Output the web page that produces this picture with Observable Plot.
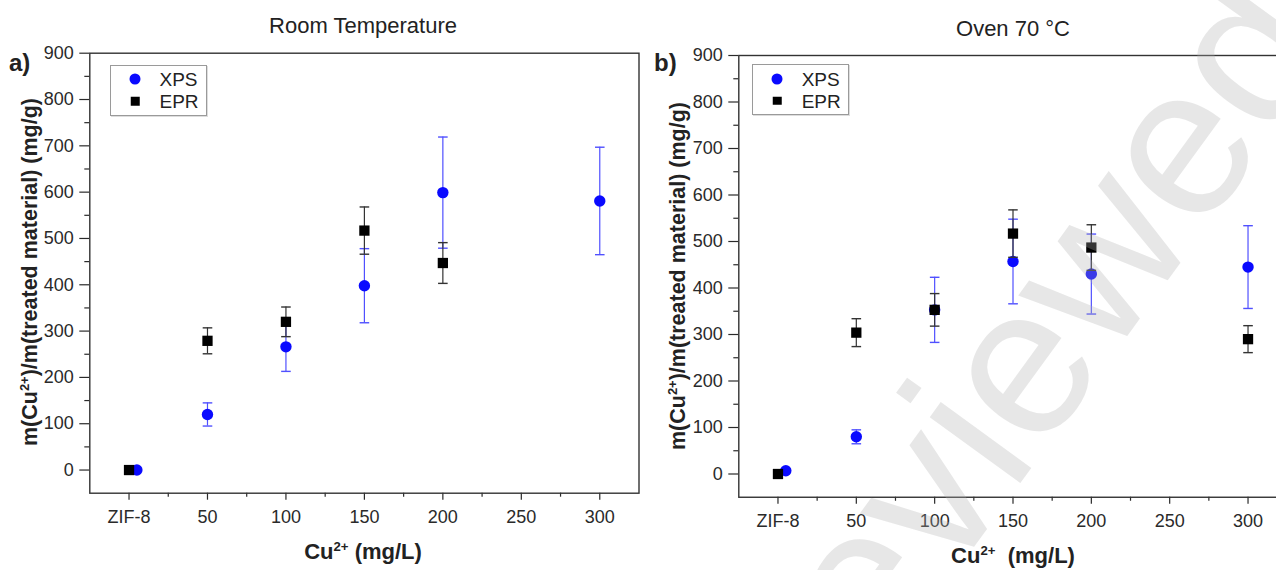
<!DOCTYPE html>
<html><head><meta charset="utf-8">
<script src="https://cdn.jsdelivr.net/npm/d3@7"></script>
<script src="https://cdn.jsdelivr.net/npm/@observablehq/plot@0.6"></script>
<style>
html,body{margin:0;padding:0;background:#fff;}
#wrap{position:relative;width:1276px;height:570px;overflow:hidden;font-family:'Liberation Sans',Arial,sans-serif;color:#222;}
.abs{position:absolute;white-space:nowrap;line-height:1;}
.c{transform:translate(-50%,-50%);}
.title{font-size:22px;}
.tag{font-size:24px;font-weight:bold;transform:translate(0,-50%);}
.axt{font-size:22px;font-weight:bold;}
.ylab{font-size:21.5px;font-weight:bold;transform:translate(-50%,-50%) rotate(-90deg);}
.sup{font-size:0.6em;position:relative;top:-0.6em;}
.legend{position:absolute;border:1px solid #9a9a9a;background:#fff;box-shadow:1px 1px 0 #ddd;}
.lt{font-size:19px;transform:translate(0,-50%);}
.lc{position:absolute;width:11px;height:11px;border-radius:50%;background:#0a0aff;transform:translate(-50%,-50%);}
.ls{position:absolute;width:8.5px;height:8.5px;background:#000;transform:translate(-50%,-50%);}
.wm{position:absolute;font-size:212px;line-height:1;white-space:nowrap;color:rgba(175,175,175,0.3);pointer-events:none;transform:translate(-50%,-50%) rotate(-54deg);font-family:'Liberation Sans',Arial,sans-serif;}
.panel{position:absolute;top:0;}
</style></head><body><div id="wrap"></div>
<script>
// ---- data ----
const xTickValues = [0, 50, 100, 150, 200, 250, 300];
const xTickLabels = ["ZIF-8", "50", "100", "150", "200", "250", "300"];
const xMinorTicks = [25, 75, 125, 175, 225, 275];
const yTickValues = [0, 100, 200, 300, 400, 500, 600, 700, 800, 900];
const yMinorTicks = [50, 150, 250, 350, 450, 550, 650, 750, 850];

// Room temperature
const rtXpsX   = [5, 50, 100, 150, 200, 300];
const rtXps    = [0, 120, 266, 398, 599, 581];
const rtXpsErr = [0, 25, 53, 80, 120, 116];
const rtEprX   = [0, 50, 100, 150, 200];
const rtEpr    = [0, 279, 320, 517, 447];
const rtEprErr = [0, 28, 32, 51, 44];

// Oven 70 °C
const ovXpsX   = [5, 50, 100, 150, 200, 300];
const ovXps    = [7, 80, 353, 457, 430, 445];
const ovXpsErr = [0, 15, 70, 91, 86, 89];
const ovEprX   = [0, 50, 100, 150, 200, 300];
const ovEpr    = [0, 304, 353, 517, 487, 290];
const ovEprErr = [0, 30, 35, 51, 49, 29];

const BLUE = "#0a0aff", BLUE_ERR = "#5050ff", BLACK = "#000", BLACK_ERR = "#333";

const capSymbol = {draw(ctx, size) { const r = Math.sqrt(size / Math.PI); ctx.moveTo(-r, 0); ctx.lineTo(r, 0); }};

function rows(xs, ys, es) { return xs.map((x, i) => ({x, y: ys[i], e: es[i]})); }

function errMarks(data, color) {
  const d = data.filter(r => r.e > 0);
  return [
    Plot.ruleX(d, {x: "x", y1: r => r.y - r.e, y2: r => r.y + r.e, stroke: color, strokeWidth: 1.2}),
    Plot.dot(d, {x: "x", y: r => r.y + r.e, symbol: capSymbol, r: 4.8, stroke: color, fill: "none", strokeWidth: 1.4}),
    Plot.dot(d, {x: "x", y: r => r.y - r.e, symbol: capSymbol, r: 4.8, stroke: color, fill: "none", strokeWidth: 1.4})
  ];
}

function panel(o) {
  const xps = rows(o.xpsX, o.xps, o.xpsErr);
  const epr = rows(o.eprX, o.epr, o.eprErr);
  return Plot.plot({
    width: o.width, height: 570,
    marginLeft: o.ml, marginRight: o.mr, marginTop: o.mt, marginBottom: o.mb,
    style: {fontSize: "18px", fontFamily: "'Liberation Sans', Arial, sans-serif", color: "#2a2a2a", background: "transparent", overflow: "visible"},
    x: {domain: [-25, 325]},
    y: {domain: [-50, 900]},
    marks: [
      Plot.axisX({ticks: xTickValues, tickFormat: d => xTickLabels[xTickValues.indexOf(d)], tickSize: 7, tickPadding: 10, label: null, strokeWidth: 1.2}),
      Plot.axisX({ticks: xMinorTicks, tickFormat: () => "", tickSize: 4, label: null, strokeWidth: 1.2}),
      Plot.axisY({ticks: yTickValues, tickSize: 10, tickPadding: 6, label: null, strokeWidth: 1.2}),
      Plot.axisY({ticks: yMinorTicks, tickFormat: () => "", tickSize: 5, label: null, strokeWidth: 1.2}),
      ...errMarks(xps, BLUE_ERR),
      Plot.dot(xps, {x: "x", y: "y", r: 5.7, fill: BLUE, symbol: "circle"}),
      ...errMarks(epr, BLACK_ERR),
      Plot.dot(epr, {x: "x", y: "y", r: 5.8, fill: BLACK, symbol: "square"}),
      Plot.frame({stroke: "#333", strokeWidth: 1.4})
    ]
  });
}

const wrap = document.getElementById("wrap");

const left = panel({width: 640, ml: 89.3, mr: 1.5, mt: 52.7, mb: 77.3,
  xpsX: rtXpsX, xps: rtXps, xpsErr: rtXpsErr, eprX: rtEprX, epr: rtEpr, eprErr: rtEprErr});
const right = panel({width: 660, ml: 98.3, mr: 13.3, mt: 55, mb: 73.25,
  xpsX: ovXpsX, xps: ovXps, xpsErr: ovXpsErr, eprX: ovEprX, epr: ovEpr, eprErr: ovEprErr});

const pl = document.createElement("div"); pl.className = "panel"; pl.style.left = "0px"; pl.style.width = "640px"; pl.appendChild(left); wrap.appendChild(pl);
const pr = document.createElement("div"); pr.className = "panel"; pr.style.left = "640px"; pr.style.width = "660px"; pr.appendChild(right); wrap.appendChild(pr);

function add(html, cls, x, y) {
  const el = document.createElement("div");
  el.className = "abs " + cls; el.innerHTML = html;
  el.style.left = x + "px"; el.style.top = y + "px";
  wrap.appendChild(el); return el;
}
const yLabel = "m(Cu<span class='sup'>2+</span>)/m(treated material) (mg/g)";

add("Room Temperature", "title c", 363, 26);
add("Oven 70 °C", "title c", 1013, 28.5);
add("a)", "tag", 9, 63);
add("b)", "tag", 654, 63);
add("Cu<span class='sup'>2+</span> (mg/L)", "axt c", 363, 552);
add("Cu<span class='sup'>2+</span>&nbsp; (mg/L)", "axt c", 1013, 556);
add(yLabel, "ylab", 31, 272);
add(yLabel, "ylab", 679, 276);

function legend(x0, y0, w, h, cx, tx, y1, y2) {
  const b = document.createElement("div"); b.className = "legend";
  b.style.left = x0 + "px"; b.style.top = y0 + "px"; b.style.width = w + "px"; b.style.height = h + "px";
  wrap.appendChild(b);
  const c = document.createElement("div"); c.className = "lc"; c.style.left = cx + "px"; c.style.top = y1 + "px"; wrap.appendChild(c);
  const s = document.createElement("div"); s.className = "ls"; s.style.left = cx + "px"; s.style.top = y2 + "px"; wrap.appendChild(s);
  add("XPS", "lt", tx, y1);
  add("EPR", "lt", tx, y2);
}
legend(110, 65, 95, 49, 135, 159.5, 79, 101);
legend(752, 63.5, 95, 49, 777.3, 801.7, 79, 100.7);

// watermark (partly outside the picture, as in the reference)
const wm = document.createElement("div"); wm.className = "wm"; wm.textContent = "eviewed";
wm.style.left = "1050px"; wm.style.top = "318px"; wrap.appendChild(wm);
</script></body></html>
